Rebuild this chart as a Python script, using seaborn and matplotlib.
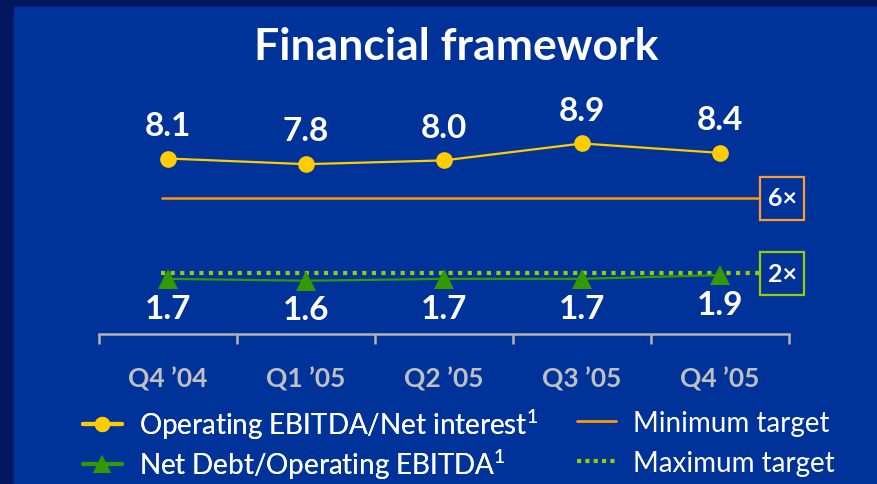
import numpy as np
import pandas as pd
import matplotlib
matplotlib.use('Agg')
import matplotlib.pyplot as plt
from matplotlib.patches import Rectangle
from matplotlib.lines import Line2D
import seaborn as sns

quarters = ['Q4 \u201904', 'Q1 \u201905', 'Q2 \u201905', 'Q3 \u201905', 'Q4 \u201905']
ebitda_interest = [8.1, 7.8, 8.0, 8.9, 8.4]
debt_ebitda = [1.7, 1.6, 1.7, 1.7, 1.9]
min_target = 6
max_target = 2

W, H = 878, 485
sns.set_theme(style='white')
plt.rcParams['font.family'] = ['Lato', 'DejaVu Sans']
plt.rcParams['mathtext.fontset'] = 'custom'
plt.rcParams['mathtext.rm'] = 'Lato'
plt.rcParams['mathtext.default'] = 'rm'

df = pd.DataFrame({'pos': np.arange(len(quarters)),
                   'interest': ebitda_interest,
                   'debt': debt_ebitda})

fig = plt.figure(figsize=(W / 100, H / 100), dpi=100, facecolor='#00175f')
fig.patches.append(Rectangle((14 / W, 0), 1, (H - 8) / H, transform=fig.transFigure,
                             color='#003399', zorder=-5))

# axes: x from -0.5..4.5 over px 99..789, bottom spine at px 335
px_unit = 18.8
ax_top, ax_bot = 100, 335
ylo = min_target - (ax_bot - 199) / px_unit
yhi = min_target + (199 - ax_top) / px_unit
ax = fig.add_axes([99 / W, 1 - ax_bot / H, 690 / W, (ax_bot - ax_top) / H])
ax.set_facecolor('none')

# targets
ax.hlines(min_target, -0.05, 4.29, color='#ff9900', lw=1.8, zorder=2)
ax.hlines(max_target, -0.05, 4.29, color='#99cc00', lw=3, linestyles=(0, (1, 1.3)), zorder=2)
bw, bh = 44 / 138, 43 / px_unit
for val, col in [(min_target, '#ff9933'), (max_target, '#99cc00')]:
    ax.add_patch(Rectangle((4.29, val - bh / 2), bw, bh, fill=False, ec=col, lw=1.6,
                           clip_on=False, zorder=3))
    ax.text(4.29 + bw / 2, val, f'{val}\u00d7', ha='center', va='center', color='white',
            fontsize=18, fontweight='bold', zorder=4)

sns.lineplot(data=df, x='pos', y='interest', ax=ax, color='#ffcc00', lw=1.6,
             marker='o', markersize=12, markeredgewidth=0, zorder=5)
sns.lineplot(data=df, x='pos', y='debt', ax=ax, color='#339900', lw=1.6,
             marker='^', markersize=14, markeredgewidth=0, zorder=5)

for x, v in zip(df['pos'], ebitda_interest):
    ax.annotate(f'{v:.1f}', (x, v), xytext=(0, 24), textcoords='offset points',
                ha='center', va='center', color='white', fontsize=24, fontweight='bold')
for x, v in zip(df['pos'], debt_ebitda):
    ax.annotate(f'{v:.1f}', (x, v), xytext=(0, -21), textcoords='offset points',
                ha='center', va='center', color='white', fontsize=24, fontweight='bold')

ax.set_xlim(-0.5, 4.5)
ax.set_ylim(ylo, yhi)
for s in ['top', 'right', 'left']:
    ax.spines[s].set_visible(False)
ax.spines['bottom'].set_color('#b4b4b4')
ax.spines['bottom'].set_linewidth(1.8)
ax.set_yticks([])
ax.set_xlabel('')
ax.set_ylabel('')
ax.set_xticks(df['pos'])
ax.set_xticklabels(quarters)
ax.set_xticks(np.arange(-0.5, 5, 1), minor=True)
ax.tick_params(axis='x', which='major', length=0, pad=23, labelsize=19,
               labelcolor='#c0c0c0')
ax.tick_params(axis='x', which='minor', length=7, width=1.8, color='#b4b4b4',
               direction='out', bottom=True)
for lab in ax.get_xticklabels():
    lab.set_fontweight('bold')

series_handles = [Line2D([], [], color='#ffcc00', lw=3, marker='o', markersize=11, markeredgewidth=0),
                  Line2D([], [], color='#339900', lw=3, marker='^', markersize=13, markeredgewidth=0)]
series_labels = ['Operating EBITDA/Net interest$^{1}$', 'Net Debt/Operating EBITDA$^{1}$']
target_handles = [Line2D([], [], color='#ff9900', lw=2),
                  Line2D([], [], color='#99cc00', lw=3, linestyle=(0, (1, 1)))]
target_labels = ['Minimum target', 'Maximum target']
leg_kw = dict(frameon=False, fontsize=20, labelcolor='white', handlelength=1.4,
              handletextpad=0.6, borderaxespad=0, borderpad=0)
leg1 = fig.legend(series_handles, series_labels, loc='upper left',
                  bbox_to_anchor=(83 / W, 1 - 408 / H), labelspacing=0.2, **leg_kw)
fig.add_artist(leg1)
fig.legend(target_handles, target_labels, loc='upper left',
           bbox_to_anchor=(577 / W, 1 - 411 / H), labelspacing=0.5, **leg_kw)

fig.text(456 / W, 1 - 47 / H, 'Financial framework', ha='center', va='center',
         color='white', fontsize=32, fontweight='bold')

fig.savefig('out.png', dpi=100, facecolor=fig.get_facecolor())
